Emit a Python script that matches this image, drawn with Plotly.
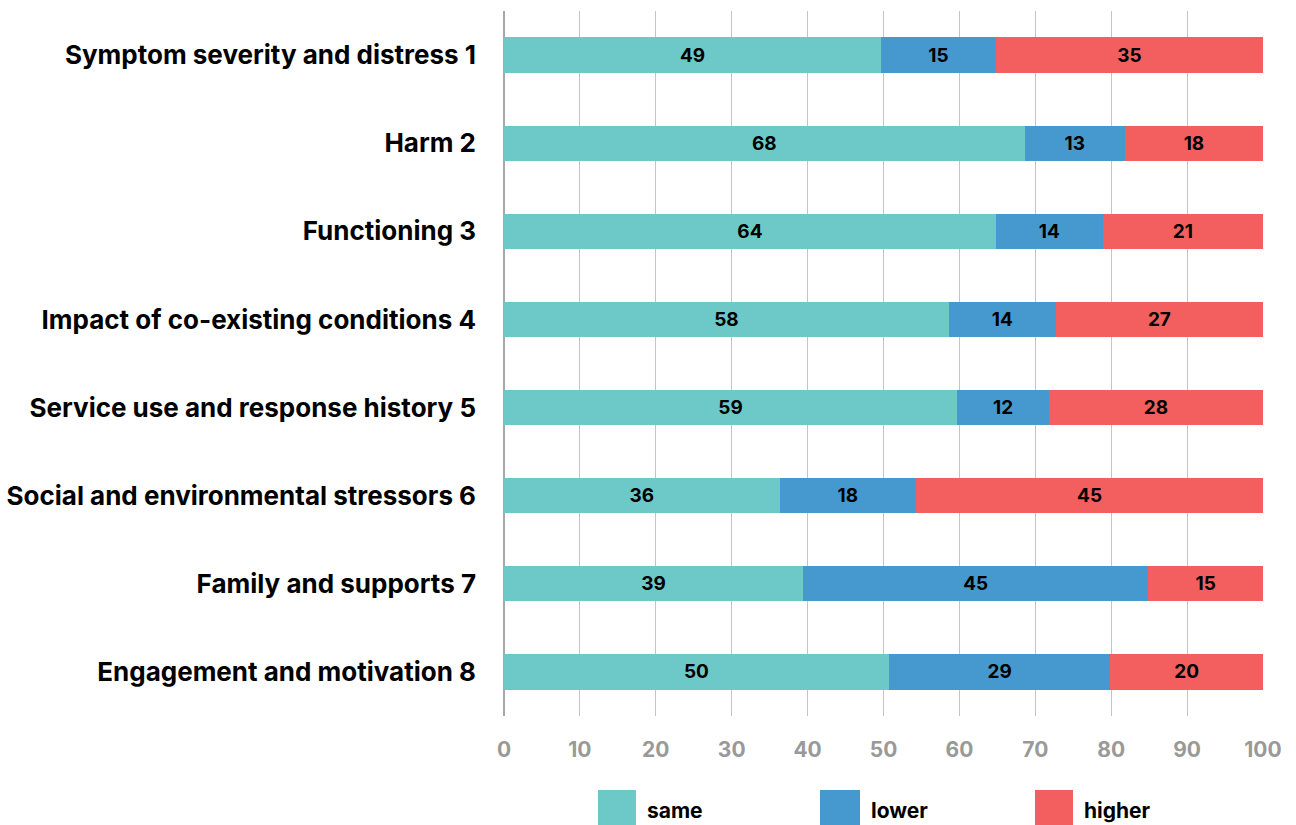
import plotly.graph_objects as go

# Domains shown on the vertical axis, top to bottom
categories = [
    "Symptom severity and distress 1",
    "Harm 2",
    "Functioning 3",
    "Impact of co-existing conditions 4",
    "Service use and response history 5",
    "Social and environmental stressors 6",
    "Family and supports 7",
    "Engagement and motivation 8",
]

# Percentage of ratings per domain
same_pct = [49.7, 68.6, 64.8, 58.6, 59.7, 36.3, 39.4, 50.7]
lower_pct = [15.1, 13.2, 14.1, 14.1, 12.1, 18.0, 45.5, 29.2]
higher_pct = [35.2, 18.2, 21.1, 27.3, 28.2, 45.7, 15.1, 20.1]

x_ticks = [0, 10, 20, 30, 40, 50, 60, 70, 80, 90, 100]

series = [
    ("same", same_pct, "#6dc9c7"),
    ("lower", lower_pct, "#4699cf"),
    ("higher", higher_pct, "#f25f5e"),
]

FONT = "Inter"

fig = go.Figure()
for name, vals, color in series:
    fig.add_trace(go.Bar(
        name=name,
        y=categories,
        x=vals,
        orientation="h",
        width=0.4,
        marker=dict(color=color, line=dict(width=0)),
        text=[str(int(v)) for v in vals],
        textposition="inside",
        insidetextanchor="middle",
        textangle=0,
        constraintext="none",
        textfont=dict(family=FONT, size=19, color="black", weight="bold"),
        showlegend=False,
    ))

# Plot area in pixels, used to place the legend row below the axis
L, R, T, B = 504, 33, 11, 109
W, H = 1296, 825
pw, ph = W - L - R, H - T - B


def px_x(px):
    return (px - L) / pw


def px_y(py):
    return (H - B - py) / ph


legend_items = [
    ("same", "#6dc9c7", 598, 636),
    ("lower", "#4699cf", 820, 860),
    ("higher", "#f25f5e", 1035, 1073),
]
shapes = []
annotations = []
for label, color, x0, x1 in legend_items:
    shapes.append(dict(
        type="rect", xref="paper", yref="paper",
        x0=px_x(x0), x1=px_x(x1), y0=px_y(826), y1=px_y(790),
        fillcolor=color, line=dict(width=0), layer="above",
    ))
    annotations.append(dict(
        xref="paper", yref="paper", x=px_x(x1 + 9), y=px_y(810),
        xanchor="left", yanchor="middle", showarrow=False,
        text=label, font=dict(family=FONT, size=21, color="black", weight="bold"),
    ))

fig.update_layout(
    width=W, height=H,
    margin=dict(l=L, r=R, t=T, b=B, pad=0, autoexpand=False),
    barmode="stack",
    bargap=0.6,
    plot_bgcolor="white",
    paper_bgcolor="white",
    shapes=shapes,
    annotations=annotations,
    xaxis=dict(
        range=[0, 100],
        tickvals=x_ticks,
        ticktext=[str(t) for t in x_ticks],
        showgrid=True,
        gridcolor="#c4c4c4",
        gridwidth=1,
        zeroline=True,
        zerolinecolor="#a8a8a8",
        zerolinewidth=1.5,
        showline=False,
        ticks="",
        automargin=False,
        ticklabelstandoff=19,
        tickfont=dict(family=FONT, size=21, color="#999999", weight="bold"),
    ),
    yaxis=dict(
        autorange="reversed",
        showgrid=False,
        zeroline=False,
        showline=False,
        ticks="",
        automargin=False,
        ticklabelstandoff=27,
        tickfont=dict(family=FONT, size=26, color="black", weight="bold"),
    ),
)

fig.write_html("out.html")
